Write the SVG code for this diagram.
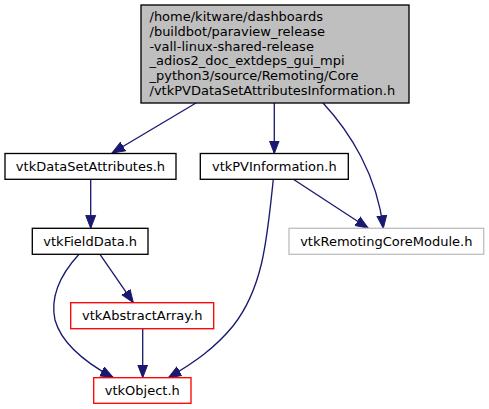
<svg xmlns="http://www.w3.org/2000/svg" width="489" height="409" viewBox="0 0 489 409">
<style>
text{font-family:"DejaVu Sans",sans-serif;font-size:13px;fill:#000}
.c{text-anchor:middle}
.box{fill:#fff;stroke:#000;stroke-width:1.33}
.red{fill:#fff;stroke:#ff0000;stroke-width:1.33}
.gray{fill:#fff;stroke:#bfbfbf;stroke-width:1.33}
.e{fill:none;stroke:#191970;stroke-width:1.33;marker-end:url(#ah)}
</style>
<defs>
<marker id="ah" markerUnits="userSpaceOnUse" markerWidth="14" markerHeight="12" viewBox="0 -6 14 12" refX="13" refY="0" orient="auto">
<path d="M0,-5 L13,0 L0,5 z" fill="#191970" stroke="#191970" stroke-width="1"/>
</marker>
</defs>
<rect width="489" height="409" fill="#fff"/>
<g id="connectors">
<path class="e" d="M196,103 L112,153"/>
<path class="e" d="M274.3,103 L274.3,153.5"/>
<path class="e" d="M323,103 C350,132 377,175 383.3,228.3"/>
<path class="e" d="M90.7,179 L90.7,228.3"/>
<path class="e" d="M293.3,179.3 L368.3,228.3"/>
<path class="e" d="M273.3,179.3 C267,240 263,288 233,326 C215,348 195,362 168.3,377.7"/>
<path class="e" d="M100,254.3 L133.3,302.7"/>
<path class="e" d="M79,254.3 C60,275 50,297 55,320 C62,345 88,364 113.3,377.7"/>
<path class="e" d="M142.7,328.7 L142.7,377.7"/>
</g>
<g id="node-main">
<rect x="141" y="5" width="268" height="98" fill="#bfbfbf" stroke="#000" stroke-width="1.33"/>
<text x="149.5" y="21.3">/home/kitware/dashboards</text>
<text x="149.5" y="35.9">/buildbot/paraview_release</text>
<text x="149.5" y="50.6">-vall-linux-shared-release</text>
<text x="149.5" y="65.3">_adios2_doc_extdeps_gui_mpi</text>
<text x="149.5" y="79.9">_python3/source/Remoting/Core</text>
<text x="149.5" y="94.6">/vtkPVDataSetAttributesInformation.h</text>
</g>
<g id="node-vtkDataSetAttributes">
<rect class="box" x="5" y="153.5" width="171" height="25.8"/>
<text class="c" x="90.5" y="170.5">vtkDataSetAttributes.h</text>
</g>
<g id="node-vtkPVInformation">
<rect class="box" x="200.3" y="153.5" width="148" height="25.8"/>
<text class="c" x="274.3" y="170.5">vtkPVInformation.h</text>
</g>
<g id="node-vtkFieldData">
<rect class="box" x="32.3" y="228.3" width="115.7" height="26"/>
<text class="c" x="90.2" y="245.5">vtkFieldData.h</text>
</g>
<g id="node-vtkRemotingCoreModule">
<rect class="gray" x="289" y="228.3" width="194.7" height="26"/>
<text class="c" x="386.3" y="245.5">vtkRemotingCoreModule.h</text>
</g>
<g id="node-vtkAbstractArray">
<rect class="red" x="70.7" y="302.7" width="143" height="26"/>
<text class="c" x="142.2" y="320">vtkAbstractArray.h</text>
</g>
<g id="node-vtkObject">
<rect class="red" x="93.7" y="377.7" width="97.3" height="25.6"/>
<text class="c" x="142.3" y="395">vtkObject.h</text>
</g>
</svg>
